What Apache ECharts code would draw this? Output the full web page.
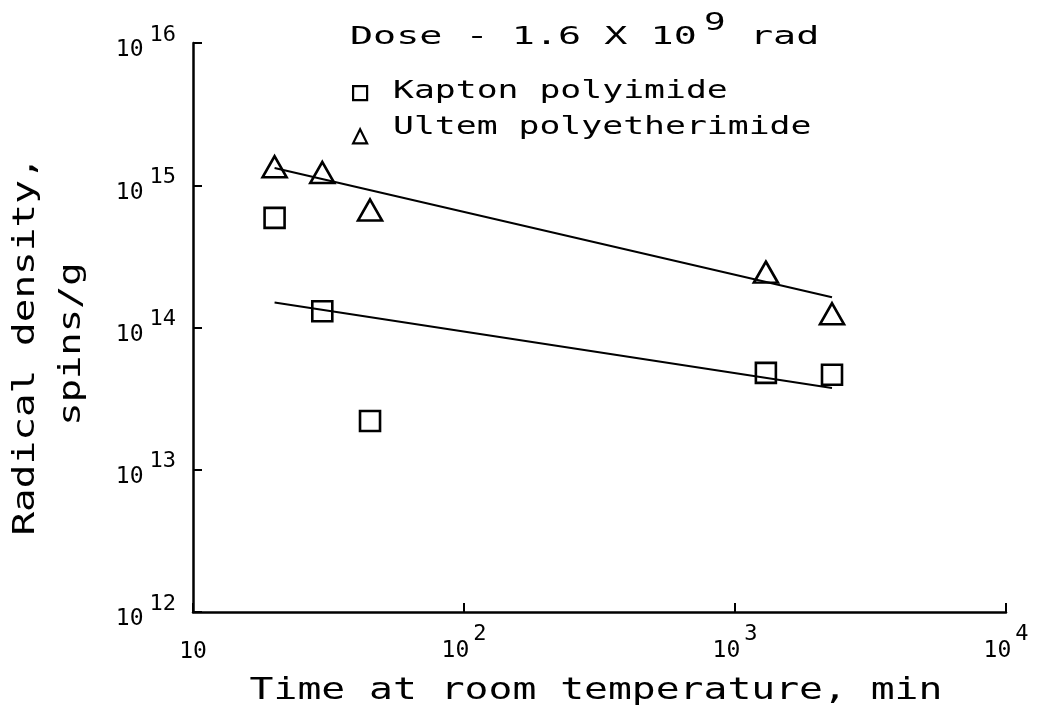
<!DOCTYPE html>
<html><head><meta charset="utf-8">
<script src="https://cdn.jsdelivr.net/npm/echarts@6/dist/echarts.min.js"></script>
<style>html,body{margin:0;padding:0;background:#fff}#c{width:1039px;height:711px}</style>
</head><body><div id="c"></div>
<script>
const FONT = '"DejaVu Sans Mono", "Liberation Mono", monospace';
const xTicks = [10, 100, 1000, 10000];
const yTicks = [1e12, 1e13, 1e14, 1e15, 1e16];
const kaptonTime = [20, 30, 45, 1300, 2280];
const kaptonDensity = [5.9e14, 1.3e14, 2.2e13, 4.8e13, 4.65e13];
const ultemTime = [20, 30, 45, 1300, 2280];
const ultemDensity = [1.35e15, 1.23e15, 6.7e14, 2.45e14, 1.25e14];
const kaptonFitTime = [20, 2280];
const kaptonFitDensity = [1.5e14, 3.75e13];
const ultemFitTime = [20, 2280];
const ultemFitDensity = [1.32e15, 1.63e14];
const seriesNames = ['Kapton polyimide', 'Ultem polyetherimide'];
const titleParts = ['Dose - 1.6 X 10', '9', 'rad'];
const xName = 'Time at room temperature, min';
const yNameLines = ['Radical density,', 'spins/g'];

const pairs = (xs, ys) => xs.map((x, i) => [x, ys[i]]);
const expOf = v => Math.round(Math.log10(v));
const richY = {
  b: { fontFamily: FONT, fontSize: 23, color: '#000', verticalAlign: 'bottom' },
  e: { fontFamily: FONT, fontSize: 22, color: '#000', verticalAlign: 'bottom', padding: [0, 0, 16, 6] }
};
const richX = {
  b: { fontFamily: FONT, fontSize: 23, color: '#000', verticalAlign: 'bottom' },
  e: { fontFamily: FONT, fontSize: 22, color: '#000', verticalAlign: 'bottom', padding: [0, 0, 18, 4] },
  s: { fontFamily: FONT, fontSize: 23, color: '#000', verticalAlign: 'bottom', padding: [18, 0, 0, 0] }
};
const hollow = { color: 'rgba(0,0,0,0)', borderColor: '#000', borderWidth: 2.6, opacity: 1 };

const chart = echarts.init(document.getElementById('c'));
const txt = (text, x, y, size, sx, align, rot) => ({
  type: 'text', x: x, y: y, scaleX: sx, rotation: rot || 0, silent: true,
  style: { text: text, font: size + 'px ' + FONT, fill: '#000', textAlign: align || 'left', textVerticalAlign: 'middle' }
});

chart.setOption({
  animation: false,
  backgroundColor: '#fff',
  grid: { left: 193, right: 33, top: 43, bottom: 99, containLabel: false },
  xAxis: {
    type: 'log', logBase: 10, min: xTicks[0], max: xTicks[xTicks.length - 1],
    axisLine: { lineStyle: { color: '#000', width: 2.5 } },
    axisTick: { inside: true, length: 9, lineStyle: { color: '#000', width: 2 } },
    splitLine: { show: false }, minorTick: { show: false },
    axisLabel: {
      margin: 11, color: '#000', fontFamily: FONT, fontSize: 23,
      formatter: v => expOf(v) === 1 ? '{s|10}' : '{b|10}{e|' + expOf(v) + '}',
      rich: richX
    }
  },
  yAxis: {
    type: 'log', logBase: 10, min: yTicks[0], max: yTicks[yTicks.length - 1],
    axisLine: { lineStyle: { color: '#000', width: 2.5 } },
    axisTick: { inside: true, length: 9, lineStyle: { color: '#000', width: 2 } },
    splitLine: { show: false }, minorTick: { show: false },
    axisLabel: {
      margin: 17, color: '#000', fontFamily: FONT, fontSize: 23,
      formatter: v => '{b|10}{e|' + expOf(v) + '}',
      rich: richY
    }
  },
  legend: {
    orient: 'vertical', left: 347, top: 80, itemWidth: 14, itemHeight: 14, itemGap: 27,
    formatter: () => '',
    textStyle: { fontFamily: FONT, fontSize: 14, color: '#000' },
    data: [
      { name: seriesNames[0], icon: 'rect', itemStyle: { color: 'rgba(0,0,0,0)', borderColor: '#000', borderWidth: 2.2, opacity: 1 } },
      { name: seriesNames[1], icon: 'triangle', itemStyle: { color: 'rgba(0,0,0,0)', borderColor: '#000', borderWidth: 2.2, opacity: 1 } }
    ]
  },
  graphic: [
    txt(titleParts[0], 350, 38, 24, 1.6),
    txt(titleParts[1], 704, 24, 24, 1.5),
    txt(titleParts[2], 750, 38, 24, 1.6),
    txt(seriesNames[0], 393, 91, 25, 1.39),
    txt(seriesNames[1], 393, 127, 25, 1.39),
    txt(xName, 596, 691, 31, 1.28, 'center'),
    txt(yNameLines[0], 26, 346, 31, 1.27, 'center', Math.PI / 2),
    txt(yNameLines[1], 72, 344, 31, 1.25, 'center', Math.PI / 2)
  ],
  series: [
    { name: seriesNames[0], type: 'scatter', symbol: 'rect', symbolSize: 20, data: pairs(kaptonTime, kaptonDensity), itemStyle: hollow, z: 3 },
    { name: seriesNames[1], type: 'scatter', symbol: 'triangle', symbolSize: [24, 21], data: pairs(ultemTime, ultemDensity), itemStyle: hollow, z: 3 },
    { name: 'Kapton fit', type: 'line', symbol: 'none', data: pairs(kaptonFitTime, kaptonFitDensity), lineStyle: { color: '#000', width: 2 }, silent: true, z: 2 },
    { name: 'Ultem fit', type: 'line', symbol: 'none', data: pairs(ultemFitTime, ultemFitDensity), lineStyle: { color: '#000', width: 2 }, silent: true, z: 2 }
  ]
});
</script></body></html>
